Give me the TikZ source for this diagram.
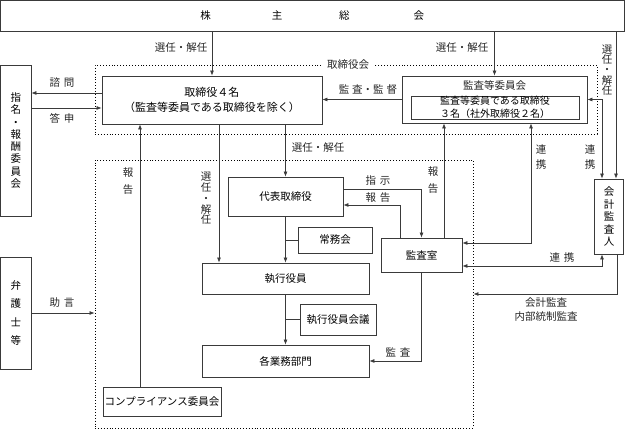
\documentclass[tikz,border=0pt]{standalone}
\usepackage{fontspec}
\setmainfont{Noto Sans CJK JP}
\usetikzlibrary{arrows.meta}
\definecolor{linec}{HTML}{3A3A3A}
\begin{document}
\begin{tikzpicture}[x=1pt,y=-1pt,
  box/.style={draw=linec, line width=0.8pt, fill=white, inner sep=0pt, align=center, font=\fontsize{10.5}{13.5}\selectfont},
  dotbox/.style={draw=black, dotted, line width=0.9pt, inner sep=0pt},
  lbl/.style={font=\fontsize{10.5}{13}\selectfont, inner sep=1pt, text=black!85},
  vlbl/.style={align=center, inner sep=0pt, text=black!85},
  arr/.style={-{Latex[length=5pt,width=4pt]}, line width=0.7pt, draw=linec},
  darr/.style={{Latex[length=5pt,width=4pt]}-{Latex[length=5pt,width=4pt]}, line width=0.7pt, draw=linec},
  ln/.style={line width=0.7pt, draw=linec}]
\useasboundingbox (0,0) rectangle (625,430);
% dotted areas
\node[dotbox, minimum width=502pt, minimum height=69pt] (bm) at (346,99.5) {};
\node[dotbox, minimum width=378pt, minimum height=268pt] (ea) at (284,294) {};
\node[lbl, fill=white, inner xsep=5pt] (bmlbl) at (348,65) {取締役会};
% boxes
\node[box, minimum width=623.5pt, minimum height=30.5pt] (sh) at (312.25,15.75) {株\hspace{61pt}主\hspace{57pt}総\hspace{64pt}会};
\node[box, minimum width=220pt, minimum height=48pt, font=\fontsize{11}{15}\selectfont] (bd) at (212,100) {取締役４名\\（監査等委員である取締役を除く）};
\node[box, minimum width=185pt, minimum height=47pt] (ac) at (494.5,99.5) {};
\node[lbl] (actitle) at (494.5,86) {監査等委員会};
\node[box, minimum width=168pt, minimum height=23pt, font=\fontsize{10}{12.5}\selectfont] (acin) at (495,107.5) {監査等委員である取締役\\３名（社外取締役２名）};
\node[box, minimum width=30.5pt, minimum height=151pt, font=\fontsize{10.5}{12.3}\selectfont] (nom) at (15.75,140.5) {指\\名\\・\\報\\酬\\委\\員\\会};
\node[box, minimum width=30.5pt, minimum height=112pt, font=\fontsize{10.5}{18.3}\selectfont] (law) at (15.75,313) {弁\\護\\士\\等};
\node[box, minimum width=115pt, minimum height=39pt] (rep) at (285.5,196.5) {代表取締役};
\node[box, minimum width=74pt, minimum height=26pt] (jomu) at (335,240) {常務会};
\node[box, minimum width=167pt, minimum height=31pt] (exec) at (285.5,278.5) {執行役員};
\node[box, minimum width=76pt, minimum height=31pt] (execm) at (338,319.5) {執行役員会議};
\node[box, minimum width=167pt, minimum height=32pt] (div) at (285.5,361) {各業務部門};
\node[box, minimum width=118pt, minimum height=29pt] (comp) at (162,401.5) {コンプライアンス委員会};
\node[box, minimum width=81pt, minimum height=34pt] (audit) at (421.5,255) {監査室};
\node[box, minimum width=29.5pt, minimum height=75pt, font=\fontsize{10.5}{12.5}\selectfont] (ext) at (609,216.5) {会\\計\\監\\査\\人};
% helper coordinates
\coordinate (e1) at ([xshift=7pt]ext.north);
\coordinate (e2) at ([xshift=-7pt]ext.north);
\coordinate (e3) at ([xshift=-7pt]ext.south);
\coordinate (e4) at ([xshift=8pt]ext.south);
\coordinate (c1) at ([xshift=-22pt]comp.north);
\coordinate (b1) at ([xshift=7pt]bd.south);
\coordinate (a1) at ([xshift=-21.5pt]audit.north);
\coordinate (a2) at ([xshift=22.5pt]audit.north);
\coordinate (a3) at ([xshift=36.5pt]ac.south);
% connectors
\draw[arr] (sh.south -| bd.north) -- (bd.north);
\draw[arr] (sh.south -| ac.north) -- (ac.north);
\draw[arr] (sh.south -| e1) -- (e1);
\draw[darr] (ac.east) -- (ac.east -| e2) -- (e2);
\draw[arr] (ac.west) -- (ac.west -| bd.east);
\draw[arr] ([yshift=7pt]bd.west) -- ([yshift=7pt]bd.west -| nom.east);
\draw[arr] ([yshift=-8pt]bd.west -| nom.east) -- ([yshift=-8pt]bd.west);
\draw[arr] (law.east) -- (law.east -| ea.west);
\draw[arr] (c1) -- (c1 |- bd.south);
\draw[arr] (b1) -- (b1 |- exec.north);
\draw[arr] (bd.south -| rep.north) -- (rep.north);
\draw[arr] (rep.south) -- (exec.north);
\draw[ln] (rep.south |- jomu.west) -- (jomu.west);
\draw[arr] (exec.south) -- (div.north);
\draw[ln] (exec.south |- execm.west) -- (execm.west);
\draw[arr] ([yshift=7.5pt]rep.east) -| (audit.north);
\draw[arr] (a1) |- ([yshift=-8.5pt]rep.east);
\draw[arr] (a2) -- (a2 |- ac.south);
\draw[darr] (a3) |- ([yshift=12pt]audit.east);
\draw[darr] ([yshift=-11pt]audit.east) -| (e3);
\draw[arr] (e4) |- (ea.east);
\draw[arr] (audit.south) |- (div.east);
% labels
\node[lbl] (l1) at (181,48) {選任・解任};
\node[lbl] (l2) at (462,48) {選任・解任};
\node[vlbl, font=\fontsize{10.5}{10.2}\selectfont] (l3) at (607,70) {選\\任\\・\\解\\任};
\node[vlbl, font=\fontsize{10.5}{15}\selectfont] (l4) at (590,157.5) {連\\携};
\node[lbl] (l5) at (368,90) {監\hspace{3pt}査・監\hspace{3pt}督};
\node[lbl] (l6) at (62,83) {諮\hspace{4pt}問};
\node[lbl] (l7) at (62,118) {答\hspace{4pt}申};
\node[lbl] (l8) at (62,303) {助\hspace{4pt}言};
\node[vlbl, font=\fontsize{10.5}{17}\selectfont] (l9) at (128,181.5) {報\\告};
\node[vlbl, font=\fontsize{10.5}{10.8}\selectfont] (l10) at (206,198.5) {選\\任\\・\\解\\任};
\node[lbl] (l11) at (318,148) {選任・解任};
\node[lbl] (l12) at (378,181) {指\hspace{4pt}示};
\node[lbl] (l13) at (378,198) {報\hspace{4pt}告};
\node[vlbl, font=\fontsize{10.5}{17}\selectfont] (l14) at (433,180.5) {報\\告};
\node[vlbl, font=\fontsize{10.5}{15}\selectfont] (l15) at (541,157.5) {連\\携};
\node[lbl] (l16) at (562,258) {連\hspace{4pt}携};
\node[lbl] (l17) at (546,303) {会計監査};
\node[lbl] (l18) at (546,317) {内部統制監査};
\node[lbl] (l19) at (398,352) {監\hspace{4pt}査};
\end{tikzpicture}
\end{document}
